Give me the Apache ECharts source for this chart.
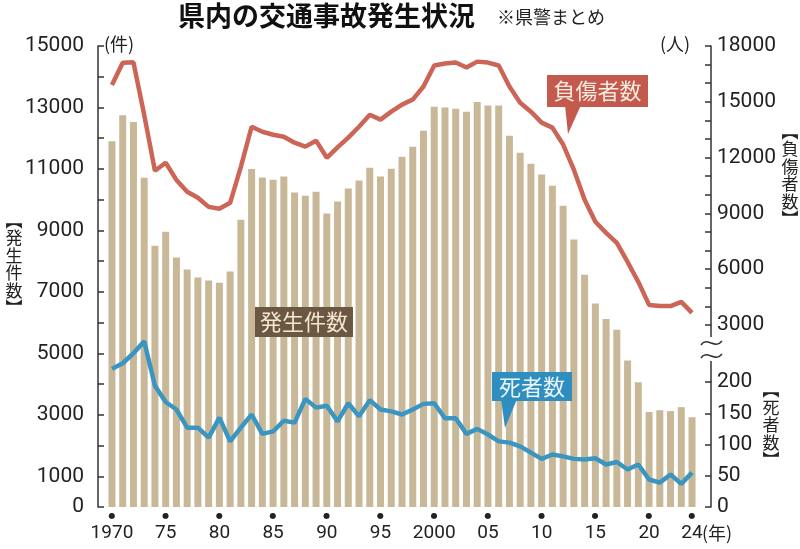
<!DOCTYPE html>
<html><head><meta charset="utf-8">
<script src="https://cdn.jsdelivr.net/npm/echarts@6/dist/echarts.min.js"></script>
<style>html,body{margin:0;padding:0;background:#fff}#c{width:800px;height:549px}</style>
</head><body><div id="c"></div>
<script>
const years = ['1970','1971','1972','1973','1974','1975','1976','1977','1978','1979',
'1980','1981','1982','1983','1984','1985','1986','1987','1988','1989',
'1990','1991','1992','1993','1994','1995','1996','1997','1998','1999',
'2000','2001','2002','2003','2004','2005','2006','2007','2008','2009',
'2010','2011','2012','2013','2014','2015','2016','2017','2018','2019',
'2020','2021','2022','2023','2024'];
const accidents = [11900,12750,12530,10710,8500,8960,8120,7730,7470,7370,
7300,7660,9350,11000,10720,10650,10750,10230,10130,10260,
9550,9940,10360,10620,11040,10750,11010,11400,11720,12240,
13020,13000,12960,12860,13180,13060,13060,12080,11530,11170,
10820,10450,9800,8700,7560,6620,6120,5770,4770,4060,
3090,3150,3120,3250,2920];
const injuries = [15900,17100,17120,14300,11290,11720,10800,10160,9840,9350,
9250,9570,11500,13660,13390,13230,13120,12800,12590,12910,
11990,12550,13070,13660,14300,14040,14470,14850,15120,15820,
16950,17060,17110,16840,17160,17110,16950,15820,14950,14470,
13880,13610,12700,11350,9730,8550,7950,7420,6390,5320,
4080,4020,4020,4240,3650];
const deaths = [221,230,246,265,194,168,156,127,127,111,
143,105,127,148,117,121,138,135,173,159,
162,137,166,145,171,156,153,148,156,165,
166,142,142,117,125,116,105,103,97,87,
77,84,81,77,76,78,68,72,60,68,
44,39,52,37,55];
const leftTicks = ['0','1000','3000','5000','7000','9000','11000','13000','15000'];

const numFont = 'Roboto, "DejaVu Sans", sans-serif';
const jpFont = '"Noto Sans CJK JP", sans-serif';
const axisCol = '#333';
const G = {left:106.6, right:102.6};

function vText(x, y, str) {
  return {type:'text', x:x, y:y, style:{text:str, font:'17px '+jpFont, lineHeight:17.5, fill:'#222', align:'center', verticalAlign:'middle'}};
}

const chart = echarts.init(document.getElementById('c'), null, {renderer:'canvas'});
const opt = {
  animation:false,
  backgroundColor:'#fff',
  textStyle:{fontFamily:numFont},
  grid:[
    {left:G.left, right:G.right, top:46, bottom:42},
    {left:G.left, right:G.right, top:46, height:279},
    {left:G.left, right:G.right, top:382, bottom:42}
  ],
  xAxis:[
    {type:'category', gridIndex:0, data:years, boundaryGap:true,
     axisLine:{show:false}, axisTick:{show:false},
     axisLabel:{interval:(i,v)=> (+v)%5===0 || v==='2024', margin:3,
       formatter:v=>{const y=+v; const t=(y===1970||y===2000)?v:v.slice(2); return '{d|●}\n{n|'+t+'}';},
       rich:{d:{fontSize:8, lineHeight:12, color:'#222', align:'center'},
             n:{fontSize:19, lineHeight:22, color:'#222', fontFamily:numFont, align:'center'}}}},
    {type:'category', gridIndex:1, data:years, boundaryGap:true, show:false},
    {type:'category', gridIndex:2, data:years, boundaryGap:true, show:false}
  ],
  yAxis:[
    {type:'value', gridIndex:0, position:'left', min:0, max:15000, interval:1000, offset:8.6,
     axisLine:{show:true, lineStyle:{color:axisCol, width:1.5}},
     axisTick:{show:true, inside:true, length:6, lineStyle:{color:axisCol, width:1.5}},
     splitLine:{show:false},
     axisLabel:{margin:14, fontSize:21, color:'#222', fontFamily:numFont,
       formatter:v=> leftTicks.indexOf(String(v))>=0 ? String(v) : ''}},
    {type:'value', gridIndex:1, position:'right', min:3000, max:18000, interval:3000, offset:13.6,
     axisLine:{show:true, lineStyle:{color:axisCol, width:1.5}},
     axisTick:{show:true, inside:true, length:6, lineStyle:{color:axisCol, width:1.5}},
     minorTick:{show:true, splitNumber:3, length:6, lineStyle:{color:axisCol, width:1.5}},
     splitLine:{show:false},
     axisLabel:{margin:6, fontSize:21, color:'#222', fontFamily:numFont, formatter:v=>String(v)}},
    {type:'value', gridIndex:2, position:'right', min:0, max:200, interval:50, offset:13.6,
     axisLine:{show:true, lineStyle:{color:axisCol, width:1.5}},
     axisTick:{show:true, inside:true, length:6, lineStyle:{color:axisCol, width:1.5}},
     splitLine:{show:false},
     axisLabel:{margin:6, fontSize:21, color:'#222', fontFamily:numFont, formatter:v=>String(v)}}
  ],
  series:[
    {name:'発生件数', type:'bar', xAxisIndex:0, yAxisIndex:0, data:accidents, barWidth:7,
     itemStyle:{color:'#c9b897'}},
    {name:'負傷者数', type:'line', xAxisIndex:1, yAxisIndex:1, data:injuries, showSymbol:false, symbol:'none',
     clip:false, lineStyle:{color:'#cd6557', width:4.5}, z:5},
    {name:'死者数', type:'line', xAxisIndex:2, yAxisIndex:2, data:deaths, showSymbol:false, symbol:'none',
     clip:false, lineStyle:{color:'#3b95c1', width:4.5}, z:6}
  ],
  graphic:[
    {type:'text', x:178, y:2, style:{text:'県内の交通事故発生状況', font:'bold 27px '+jpFont, fill:'#111'}},
    {type:'text', x:497, y:8, style:{text:'※県警まとめ', font:'18px '+jpFont, fill:'#222'}},
    {type:'text', x:104, y:35, style:{text:'(件)', font:'18px '+jpFont, fill:'#222'}},
    {type:'text', x:660, y:35, style:{text:'(人)', font:'18px '+jpFont, fill:'#222'}},
    {type:'text', x:702, y:524, style:{text:'(年)', font:'18px '+jpFont, fill:'#222'}},
    vText(14, 264, '︻\n発\n生\n件\n数\n︼'),
    vText(790, 175, '︻\n負\n傷\n者\n数\n︼'),
    vText(771, 425, '︻\n死\n者\n数\n︼'),
    // axis break
    {type:'line', shape:{x1:711, y1:325, x2:711, y2:337}, style:{stroke:axisCol, lineWidth:1.5}},
    {type:'line', shape:{x1:711, y1:361, x2:711, y2:382}, style:{stroke:axisCol, lineWidth:1.5}},
    {type:'bezierCurve', shape:{x1:701, y1:345, cpx1:707, cpy1:336, cpx2:715, cpy2:350, x2:722, y2:341}, style:{stroke:axisCol, lineWidth:1.5, fill:null}},
    {type:'bezierCurve', shape:{x1:701, y1:358, cpx1:707, cpy1:349, cpx2:715, cpy2:363, x2:722, y2:354}, style:{stroke:axisCol, lineWidth:1.5, fill:null}},
    // callouts
    {type:'polygon', shape:{points:[[565,105],[581,105],[568,134]]}, style:{fill:'#c45a4e'}, z:10},
    {type:'rect', shape:{x:547, y:75, width:101, height:32}, style:{fill:'#c45a4e'}, z:10},
    {type:'text', x:597.5, y:91, style:{text:'負傷者数', font:'22px '+jpFont, fill:'#f7ece0', align:'center', verticalAlign:'middle'}, z:11},
    {type:'rect', shape:{x:255, y:307, width:98, height:30}, style:{fill:'#6c5842'}, z:10},
    {type:'text', x:304, y:322, style:{text:'発生件数', font:'22px '+jpFont, fill:'#f3e7d3', align:'center', verticalAlign:'middle'}, z:11},
    {type:'polygon', shape:{points:[[501,399],[517,399],[505,428]]}, style:{fill:'#2f8ec0'}, z:10},
    {type:'rect', shape:{x:492, y:372, width:80, height:29}, style:{fill:'#2f8ec0'}, z:10},
    {type:'text', x:532, y:386.5, style:{text:'死者数', font:'22px '+jpFont, fill:'#eef6fb', align:'center', verticalAlign:'middle'}, z:11}
  ]
};
chart.setOption(opt);
</script></body></html>
